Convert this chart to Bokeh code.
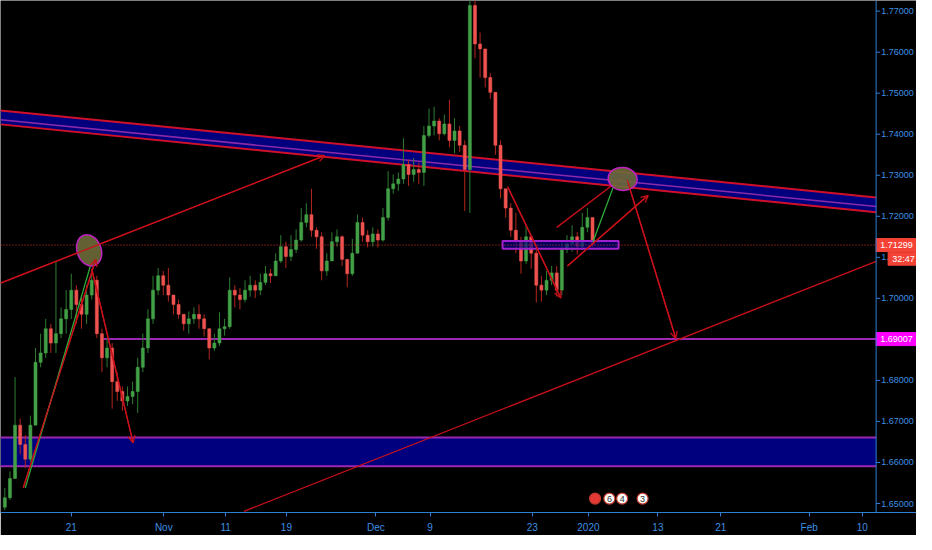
from bokeh.plotting import figure
from bokeh.models import Range1d, FixedTicker, Arrow, OpenHead, Span
from bokeh.core.properties import value
from bokeh.embed import file_html
from bokeh.resources import INLINE

# ---------------- data (12h candles) ----------------
first_open = 1.6491
close = [1.6514, 1.6561, 1.6691, 1.6644, 1.6608, 1.6691, 1.6844, 1.6867, 1.6926, 1.6891,
         1.6914, 1.6950, 1.6973, 1.7020, 1.6985, 1.6961, 1.7008, 1.7044, 1.6914, 1.6855,
         1.6879, 1.6797, 1.6773, 1.6750, 1.6761, 1.6773, 1.6832, 1.6879, 1.6950, 1.7020,
         1.7055, 1.7032, 1.7008, 1.6985, 1.6961, 1.6938, 1.6950, 1.6961, 1.6950, 1.6926,
         1.6879, 1.6891, 1.6926, 1.6931, 1.7020, 1.7008, 1.6997, 1.7020, 1.7032, 1.7020,
         1.7039, 1.7060, 1.7055, 1.7091, 1.7126, 1.7102, 1.7119, 1.7142, 1.7185, 1.7204,
         1.7166, 1.7150, 1.7067, 1.7091, 1.7138, 1.7150, 1.7095, 1.7060, 1.7110, 1.7185,
         1.7154, 1.7138, 1.7157, 1.7142, 1.7197, 1.7267, 1.7279, 1.7291, 1.7326, 1.7302,
         1.7314, 1.7307, 1.7397, 1.7420, 1.7432, 1.7401, 1.7425, 1.7385, 1.7408, 1.7373,
         1.7314, 1.7714, 1.7620, 1.7608, 1.7538, 1.7502, 1.7373, 1.7267, 1.7220, 1.7166,
         1.7138, 1.7091, 1.7150, 1.7110, 1.7032, 1.7020, 1.7044, 1.7062, 1.7020, 1.7119,
         1.7133, 1.7150, 1.7126, 1.7173, 1.7197, 1.71299]
high = [1.6538, 1.6578, 1.6808, 1.6707, 1.6667, 1.6714, 1.6879, 1.6914, 1.6950, 1.6938,
        1.7091, 1.6978, 1.7020, 1.7060, 1.7032, 1.7008, 1.7032, 1.7067, 1.7055, 1.6926,
        1.6903, 1.6891, 1.6820, 1.6785, 1.6785, 1.6797, 1.6855, 1.6914, 1.6973, 1.7055,
        1.7074, 1.7067, 1.7074, 1.7008, 1.6997, 1.6961, 1.6968, 1.6978, 1.6985, 1.6961,
        1.6926, 1.6914, 1.6966, 1.6950, 1.7051, 1.7032, 1.7025, 1.7044, 1.7055, 1.7044,
        1.7060, 1.7079, 1.7072, 1.7110, 1.7154, 1.7138, 1.7154, 1.7168, 1.7220, 1.7232,
        1.7267, 1.7173, 1.7161, 1.7110, 1.7161, 1.7168, 1.7154, 1.7091, 1.7145, 1.7204,
        1.7197, 1.7166, 1.7173, 1.7168, 1.7220, 1.7310, 1.7302, 1.7307, 1.7390, 1.7338,
        1.7342, 1.7331, 1.7420, 1.7462, 1.7467, 1.7439, 1.7448, 1.7484, 1.7439, 1.7420,
        1.7385, 1.7773, 1.7726, 1.7648, 1.7597, 1.7549, 1.7495, 1.7385, 1.7267, 1.7232,
        1.7208, 1.7150, 1.7178, 1.7138, 1.7119, 1.7055, 1.7067, 1.7079, 1.7079, 1.7138,
        1.7154, 1.7178, 1.7161, 1.7208, 1.7220, 1.7197]
low = [1.6484, 1.6509, 1.6561, 1.6620, 1.6587, 1.6601, 1.6691, 1.6832, 1.6855, 1.6867,
       1.6867, 1.6903, 1.6914, 1.6950, 1.6938, 1.6926, 1.6938, 1.6997, 1.6903, 1.6820,
       1.6832, 1.6731, 1.6750, 1.6726, 1.6738, 1.6742, 1.6721, 1.6820, 1.6867, 1.6938,
       1.7008, 1.7008, 1.6992, 1.6961, 1.6950, 1.6921, 1.6914, 1.6938, 1.6926, 1.6907,
       1.6851, 1.6872, 1.6884, 1.6909, 1.6926, 1.6978, 1.6973, 1.6990, 1.7004, 1.7001,
       1.7008, 1.7032, 1.7037, 1.7062, 1.7086, 1.7074, 1.7091, 1.7110, 1.7138, 1.7173,
       1.7150, 1.7121, 1.7044, 1.7055, 1.7091, 1.7126, 1.7079, 1.7027, 1.7055, 1.7110,
       1.7138, 1.7124, 1.7126, 1.7124, 1.7138, 1.7190, 1.7255, 1.7262, 1.7279, 1.7274,
       1.7284, 1.7279, 1.7274, 1.7392, 1.7397, 1.7385, 1.7397, 1.7368, 1.7354, 1.7357,
       1.7213, 1.7208, 1.7585, 1.7538, 1.7514, 1.7486, 1.7350, 1.7244, 1.7197, 1.7150,
       1.7110, 1.7060, 1.7084, 1.7072, 1.6990, 1.6992, 1.7008, 1.7032, 1.7004, 1.7008,
       1.7110, 1.7114, 1.7107, 1.7119, 1.7161, 1.7124]

price_ticks = [1.65, 1.66, 1.67, 1.68, 1.69, 1.70, 1.71, 1.72, 1.73, 1.74, 1.75, 1.76, 1.77]
date_tick_pos = [13.0, 31.1, 43.2, 55.1, 72.6, 83.2, 103.2, 114.2, 127.8, 140.1, 157.4, 167.8]
date_tick_labels = ["21", "Nov", "11", "19", "Dec", "9", "23", "2020", "13", "21", "Feb", "10"]

last_price = 1.71299
level_price = 1.69007
countdown_text = "32:47"
countdown_price = 1.70966

# drawings (candle-index, price)
x_lo, x_hi, x_right = -0.85, 170.5, 178.4      # x_hi = price-scale boundary
y_lo, y_hi = 1.64781, 1.77259
channel_x = [-0.85, 170.5]
channel_top = [1.7458, 1.7246]
channel_mid = [1.7435, 1.7224]
channel_bot = [1.7424, 1.7210]
zone_top, zone_bot = 1.6661, 1.6591
level_start = 19.3
small_box_x = [97.4, 120.1]
small_box_y = [1.7121, 1.7140]
ellipse_x = [16.5, 120.9]
ellipse_y = [1.7117, 1.7291]
ellipse_w = [24, 29]
ellipse_h = [32, 23]
ellipse_a = [0.35, -0.12]
# red lines: x0, y0, x1, y1, arrow head at end
red_lines = [
    (-0.85, 1.7037, 62.6, 1.7348, True),
    (3.6, 1.6538, 17.8, 1.7095, True),
    (17.0, 1.7072, 25.1, 1.6648, True),
    (98.4, 1.7272, 108.8, 1.7001, True),
    (108.0, 1.7173, 120.9, 1.7295, False),
    (110.1, 1.7079, 125.9, 1.7251, True),
    (121.8, 1.7288, 131.3, 1.6902, True),
    (46.8, 1.6481, 170.5, 1.7090, False),
]
green_lines = [
    (4.0, 1.6538, 16.9, 1.7086),
    (115.1, 1.7138, 119.3, 1.7279),
]
event_x = [115.5, 118.3, 120.8, 124.8]
event_txt = ["", "6", "4", "3"]
event_y = 1.6512

# ---------------- figure ----------------
FRAME_W, FRAME_H = 916, 512
AXIS_BLUE = "#2f7fd6"
TXT_BLUE = "#3f8fe0"
RED = "#c8101a"
PURPLE = "#9c27b0"
NAVY = "#00007f"
FONT = "Liberation Sans"

p = figure(frame_width=FRAME_W, frame_height=FRAME_H,
           x_range=Range1d(x_lo, x_right), y_range=Range1d(y_lo, y_hi),
           y_axis_location=None, output_backend="svg", toolbar_location=None,
           background_fill_color="#000000", border_fill_color="#000000",
           min_border_left=0, min_border_top=0, min_border_right=0, min_border_bottom=0)
p.outline_line_color = None
p.grid.visible = False

px_x = (x_right - x_lo) / FRAME_W        # data units per pixel
px_y = (y_hi - y_lo) / FRAME_H

p.xaxis.ticker = FixedTicker(ticks=date_tick_pos)
p.xaxis.major_label_overrides = {v: t for v, t in zip(date_tick_pos, date_tick_labels)}
p.xaxis.axis_line_color = AXIS_BLUE
p.xaxis.major_tick_line_color = AXIS_BLUE
p.xaxis.major_tick_in = 0
p.xaxis.major_tick_out = 4
p.xaxis.minor_tick_line_color = None
p.xaxis.major_label_text_color = TXT_BLUE
p.xaxis.major_label_text_font_size = "10px"
p.xaxis.major_label_text_font = FONT
p.xaxis.major_label_standoff = 5

# zones / channel (beneath candles)
p.varea(x=[x_lo, x_hi], y1=[zone_bot, zone_bot], y2=[zone_top, zone_top], fill_color=NAVY)
p.line([x_lo, x_hi], [zone_top, zone_top], line_color=PURPLE, line_width=2)
p.line([x_lo, x_hi], [zone_bot, zone_bot], line_color=PURPLE, line_width=2)
p.varea(x=channel_x, y1=channel_bot, y2=channel_top, fill_color=NAVY)
p.line(channel_x, channel_top, line_color="#d0102a", line_width=2)
p.line(channel_x, channel_bot, line_color="#d0102a", line_width=2)
p.line(channel_x, channel_mid, line_color="#8a2aa8", line_width=1.5)
p.line([level_start, x_hi], [level_price, level_price], line_color=PURPLE, line_width=2)

# candles
opens = [first_open] + close[:-1]
n = len(close)
idx = list(range(n))
inc = [c >= o for o, c in zip(opens, close)]
hi = [max(h, o, c) for h, o, c in zip(high, opens, close)]
lo = [min(l, o, c) for l, o, c in zip(low, opens, close)]
for up, body, wick in ((True, "#43a047", "#2e7d32"), (False, "#ef5350", "#b3261e")):
    sel = [i for i in idx if inc[i] == up]
    p.segment(x0=sel, x1=sel, y0=[lo[i] for i in sel], y1=[hi[i] for i in sel],
              line_color=wick, line_width=1)
    p.vbar(x=sel, width=0.6, top=[max(opens[i], close[i]) for i in sel],
           bottom=[min(opens[i], close[i]) for i in sel],
           fill_color=body, line_color=body, line_width=0.5)

# small box
p.quad(left=[small_box_x[0]], right=[small_box_x[1]], bottom=[small_box_y[0]], top=[small_box_y[1]],
       fill_color=NAVY, fill_alpha=0.7, line_color="#a020d0", line_width=2)

# last price dotted line
p.line([x_lo, x_hi], [last_price, last_price], line_color="#e53935", line_width=1, line_dash="1 2")

# trend lines
for x0, y0, x1, y1, head in red_lines:
    p.line([x0, x1], [y0, y1], line_color=RED, line_width=1.3)
    if head:
        p.add_layout(Arrow(end=OpenHead(size=7, line_color=RED, line_width=1.3),
                           x_start=x0, y_start=y0, x_end=x1, y_end=y1,
                           line_color=RED, line_width=1.3))
for x0, y0, x1, y1 in green_lines:
    p.line([x0, x1], [y0, y1], line_color="#2fae3a", line_width=1.3)

# ellipses
p.ellipse(x=ellipse_x, y=ellipse_y, width=ellipse_w, height=ellipse_h, angle=ellipse_a,
          width_units="screen", height_units="screen",
          fill_color="#6e6a3a", fill_alpha=0.9, line_color="#c020c0", line_width=1.5)

# event markers at bottom
p.scatter(x=event_x, y=[event_y] * len(event_x), size=11, marker="circle",
          fill_color=["#e53935", "#ffffff", "#ffffff", "#ffffff"], line_color="#c0392b", line_width=1.2)
p.text(x=event_x, y=[event_y] * len(event_x), text=event_txt, text_align="center",
       text_baseline="middle", text_font_size="9px", text_color="#333333",
       text_font=value(FONT))

# ---------------- price scale on the right (drawn on the y scale) ----------------
p.add_layout(Span(location=x_hi, dimension="height", line_color=AXIS_BLUE, line_width=1))
p.segment(x0=[x_hi] * len(price_ticks), x1=[x_hi + 4 * px_x] * len(price_ticks),
          y0=price_ticks, y1=price_ticks, line_color=AXIS_BLUE, line_width=1)
p.text(x=[x_hi + 5 * px_x] * len(price_ticks), y=price_ticks,
       text=["%.5f" % t for t in price_ticks], text_baseline="middle",
       text_font_size="9px", text_color=TXT_BLUE, text_font=value(FONT))

def price_box(price, text, bg, left_px):
    h = 13 * px_y
    p.quad(left=[x_hi + left_px * px_x], right=[x_right], bottom=[price - h / 2], top=[price + h / 2],
           fill_color=bg, line_color=bg)
    p.text(x=[x_hi + (left_px + 4) * px_x], y=[price], text=[text], text_baseline="middle",
           text_font_size="9px", text_color="#ffffff", text_font=value(FONT))

price_box(last_price, "1.71299", "#f44336", 0)
price_box(level_price, "1.69007", "#ff00ff", 0)
price_box(countdown_price, countdown_text, "#f44336", 12)

open("out.html", "w").write(file_html(p, INLINE))
